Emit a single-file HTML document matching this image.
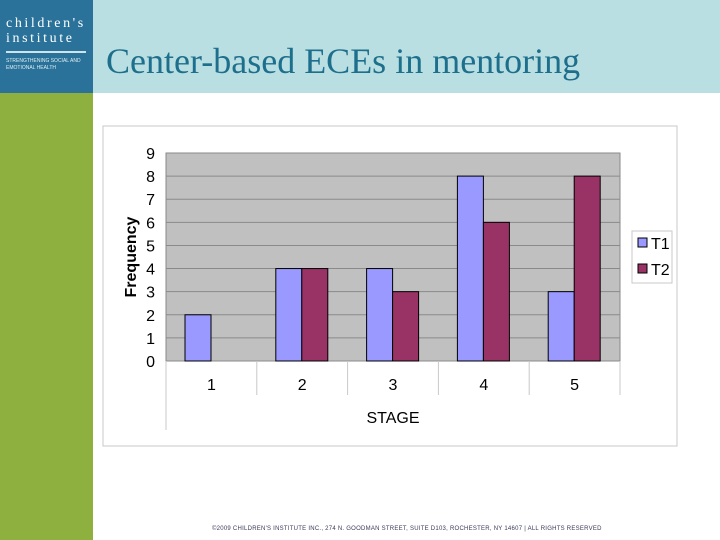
<!DOCTYPE html>
<html><head><meta charset="utf-8"><style>
body{margin:0;width:720px;height:540px;position:relative;background:#fff;overflow:hidden;font-family:"Liberation Sans",sans-serif}
div{position:absolute}
</style></head><body>
<div style="left:93px;top:0;width:627px;height:93px;background:#b9dfe3"></div>
<div style="left:0;top:0;width:93px;height:93px;background:#2a7299;color:#fff">
 <div style="left:6px;top:16px;font-family:'Liberation Serif',serif;font-size:14px;letter-spacing:2.6px;line-height:15px">children's<br>institute</div>
 <div style="left:6px;top:51px;width:80px;height:2px;background:#cfe3ea"></div>
 <div style="left:6px;top:58px;font-size:5px;line-height:7px;color:#dfeef3">STRENGTHENING SOCIAL AND<br>EMOTIONAL HEALTH</div>
</div>
<div style="left:0;top:93px;width:93px;height:447px;background:#8db03f"></div>
<div style="left:106px;top:40px;font-family:'Liberation Serif',serif;font-size:36px;color:#1e6f8c;white-space:nowrap">Center-based ECEs in mentoring</div>
<svg style="position:absolute;left:0;top:0" width="720" height="540"></svg>
<div style="left:212px;top:526px;font-size:6px;color:#3a3a5a;white-space:nowrap;letter-spacing:0.25px">©2009 CHILDREN'S INSTITUTE INC., 274 N. GOODMAN STREET, SUITE D103, ROCHESTER, NY 14607 | ALL RIGHTS RESERVED</div>
<script>
const categories=["1","2","3","4","5"];
const t1=[2,4,4,8,3];
const t2=[0,4,3,6,8];
const yTicks=[0,1,2,3,4,5,6,7,8,9];
const NS="http://www.w3.org/2000/svg";
const svg=document.querySelector('svg');
function mk(tag,attrs,parent){const e=document.createElementNS(NS,tag);for(const k in attrs)e.setAttribute(k,attrs[k]);(parent||svg).appendChild(e);return e;}
const X0=166,X1=620,Y0=361,Y9=153,yMax=9;
const catW=(X1-X0)/categories.length;
const y=v=>Y0-(Y0-Y9)*v/yMax;
const xc=i=>X0+i*catW;
let e=mk('rect',{x:103,y:126,width:574,height:320,fill:'#fff',stroke:'#c8c8c8'});

e=mk('rect',{x:X0,y:Y9,width:X1-X0,height:Y0-Y9,fill:'#c0c0c0',stroke:'#888'});

yTicks.forEach(t=>{
 const g=mk('line',{x1:X0,x2:X1,y1:y(t),y2:y(t),stroke:'#8a8a8a'});
 
 const l=mk('text',{x:155,y:y(t)+6,'text-anchor':'end','font-size':16,fill:'#000'});
 l.textContent=t;
 
});
for(let i=0;i<=categories.length;i++){
 const s=mk('line',{x1:xc(i),x2:xc(i),y1:Y0,y2:i===0?430:395,stroke:'#c8c8c8'});
 
}
const bw=26,off=19;
categories.forEach((c,i)=>{
 const l=mk('text',{x:xc(i)+catW/2,y:390,'text-anchor':'middle','font-size':16});
 l.textContent=c;
 
 if(t1[i]>0){const b=mk('rect',{x:xc(i)+off,y:y(t1[i]),width:bw,height:Y0-y(t1[i]),fill:'#9999ff',stroke:'#000'});
 }
 if(t2[i]>0){const b=mk('rect',{x:xc(i)+off+bw,y:y(t2[i]),width:bw,height:Y0-y(t2[i]),fill:'#993366',stroke:'#000'});
 }
});
e=mk('text',{x:393,y:423,'text-anchor':'middle','font-size':16});e.textContent='STAGE';

e=mk('text',{x:136,y:257,'text-anchor':'middle','font-size':16,'font-weight':'bold',transform:'rotate(-90 136 257)'});e.textContent='Frequency';

e=mk('rect',{x:632,y:231,width:40,height:52,fill:'#fff',stroke:'#c8c8c8'});

[['T1','#9999ff',243],['T2','#993366',269]].forEach(([n,c,yy])=>{
 const r=mk('rect',{x:638,y:yy-5,width:9,height:9,fill:c,stroke:'#000'});
 
 const t=mk('text',{x:651,y:yy+6,'font-size':16});t.textContent=n;
 
});
</script>
</body></html>
